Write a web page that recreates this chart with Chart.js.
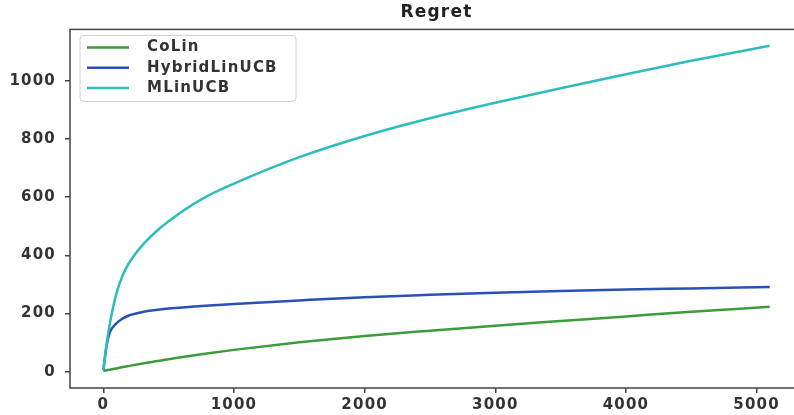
<!DOCTYPE html>
<html>
<head>
<meta charset="utf-8">
<title>Regret</title>
<script src="https://cdn.jsdelivr.net/npm/chart.js@4.4.1/dist/chart.umd.min.js"></script>
<style>
  html, body { margin: 0; padding: 0; background: #fff; }
  #wrap { width: 794px; height: 415px; overflow: hidden; }
  canvas { display: block; }
</style>
</head>
<body>
<div id="wrap"><canvas id="regret" width="812" height="415"></canvas></div>
<script>
// cumulative regret per time step
const steps        = [0, 25, 50, 100, 150, 200, 300, 400, 500, 750, 1000, 1500, 2000, 2500, 3000, 3500, 4000, 4500, 5100]
const colinRegret  = [3, 5, 7, 11, 16, 20, 28, 36, 43, 60, 75, 101, 123, 141, 158, 174, 190, 206, 223]
const hybridRegret = [5, 90, 135, 166, 183, 194, 205, 212, 217, 226, 233, 245, 256, 264, 271, 277, 282, 286, 291]
const mlinRegret   = [5, 95, 165, 268, 333, 376, 435, 480, 517, 592, 646, 737, 810, 871, 924, 974, 1022, 1068, 1120]

const seriesNames  = ['CoLin', 'HybridLinUCB', 'MLinUCB']
const seriesColors = ['#3a9d3a', '#2b50b8', '#2dbdbd']

const xTicks = [0, 1000, 2000, 3000, 4000, 5000]
const yTicks = [0, 200, 400, 600, 800, 1000]

const FONT = 'DejaVu Sans'
const TEXT_COLOR = '#333'

const toPoints = values => values.map((y, i) => ({ x: steps[i], y }))

// slightly wider text tracking for every label on the canvas
const tracking = {
  id: 'tracking',
  beforeUpdate(chart) { chart.ctx.letterSpacing = '1.2px' },
  beforeDraw(chart) { chart.ctx.letterSpacing = '1.2px' }
}

// box around the plot area, drawn above the lines
const frame = {
  id: 'frame',
  afterDatasetsDraw(chart) {
    const { ctx, chartArea: a } = chart
    ctx.save()
    ctx.strokeStyle = '#444'
    ctx.lineWidth = 1.5
    ctx.strokeRect(a.left, a.top, a.right - a.left, a.bottom - a.top)
    ctx.restore()
  }
}

// legend in the upper left corner of the plot
const cornerLegend = {
  id: 'cornerLegend',
  afterDraw(chart) {
    const { ctx, chartArea: a } = chart
    const x = a.left + 10
    const y = a.top + 6
    const w = 216
    const h = 66
    const rowGap = 20.3

    ctx.save()
    ctx.beginPath()
    ctx.roundRect(x, y, w, h, 4)
    ctx.fillStyle = 'rgba(255,255,255,0.85)'
    ctx.fill()
    ctx.strokeStyle = '#d0d0d0'
    ctx.lineWidth = 1
    ctx.stroke()

    ctx.font = `bold 15px "${FONT}"`
    ctx.textBaseline = 'middle'
    ctx.textAlign = 'left'
    chart.data.datasets.forEach((ds, i) => {
      const rowY = y + 12 + i * rowGap
      ctx.beginPath()
      ctx.moveTo(x + 7, rowY)
      ctx.lineTo(x + 49, rowY)
      ctx.strokeStyle = ds.borderColor
      ctx.lineWidth = 2.5
      ctx.stroke()
      ctx.fillStyle = TEXT_COLOR
      ctx.fillText(ds.label, x + 67, rowY)
    })
    ctx.restore()
  }
}

const series = [colinRegret, hybridRegret, mlinRegret]

new Chart(document.getElementById('regret'), {
  type: 'line',
  data: {
    datasets: series.map((values, i) => ({
      label: seriesNames[i],
      data: toPoints(values),
      borderColor: seriesColors[i],
      backgroundColor: seriesColors[i],
      borderWidth: 2.5,
      pointRadius: 0,
      cubicInterpolationMode: 'monotone',
      order: series.length - i
    }))
  },
  options: {
    responsive: false,
    animation: false,
    layout: { padding: { left: 0, right: 9, top: 0, bottom: 0 } },
    plugins: {
      legend: { display: false },
      tooltip: { enabled: false },
      title: {
        display: true,
        text: 'Regret',
        fullSize: false,
        color: '#222',
        font: { family: FONT, size: 17, weight: 'bold' },
        padding: { top: 2, bottom: 7 }
      }
    },
    scales: {
      x: {
        type: 'linear',
        min: -255,
        max: 5355,
        afterBuildTicks(scale) { scale.ticks = xTicks.map(value => ({ value })) },
        afterFit(scale) { scale.height = 27 },
        border: { display: false },
        grid: { drawOnChartArea: false, drawTicks: true, tickLength: 5, color: '#444', lineWidth: 1.5 },
        ticks: {
          padding: 3,
          color: TEXT_COLOR,
          font: { family: FONT, size: 15, weight: 'bold' },
          maxRotation: 0,
          callback: v => String(v)
        }
      },
      y: {
        min: -56,
        max: 1176,
        afterBuildTicks(scale) { scale.ticks = yTicks.map(value => ({ value })) },
        afterFit(scale) { scale.width = 70 },
        border: { display: false },
        grid: { drawOnChartArea: false, drawTicks: true, tickLength: 5, color: '#444', lineWidth: 1.5 },
        ticks: {
          padding: 9,
          color: TEXT_COLOR,
          font: { family: FONT, size: 15, weight: 'bold' },
          callback: v => String(v)
        }
      }
    }
  },
  plugins: [tracking, frame, cornerLegend]
})
</script>
</body>
</html>
